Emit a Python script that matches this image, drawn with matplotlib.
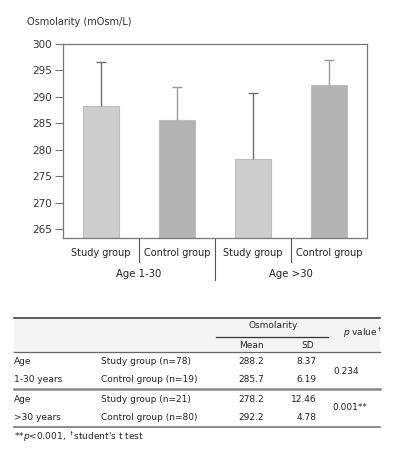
import matplotlib
matplotlib.use("Agg")
import matplotlib.pyplot as plt
from matplotlib.lines import Line2D
from matplotlib.patches import Rectangle

# data
groups = ["Age 1-30", "Age >30"]
categories = ["Study group", "Control group", "Study group", "Control group"]
means = [288.2, 285.7, 278.2, 292.2]
sds = [8.37, 6.19, 12.46, 4.78]
bar_colors = ["#cdcdcd", "#b3b3b3", "#cdcdcd", "#b3b3b3"]
err_colors = ["#6e6e6e", "#999999", "#6e6e6e", "#999999"]
yticks = [265, 270, 275, 280, 285, 290, 295, 300]

row_age = ["Age", "1-30 years", "Age", ">30 years"]
row_group = ["Study group (n=78)", "Control group (n=19)", "Study group (n=21)", "Control group (n=80)"]
tab_mean = ["288.2", "285.7", "278.2", "292.2"]
tab_sd = ["8.37", "6.19", "12.46", "4.78"]
p_values = ["0.234", "0.001**"]

W, H = 402, 458
fig = plt.figure(figsize=(W / 100, H / 100), dpi=100)
plt.rcParams["font.family"] = "DejaVu Sans"

def fx(x):
    return x / W

def fy(y):
    return 1 - y / H

ax = fig.add_axes([fx(63), fy(238), (367 - 63) / W, (238 - 44) / H])
x = list(range(len(means)))
for i in x:
    ax.bar(i, means[i], width=0.47, color=bar_colors[i], edgecolor="#bdbdbd", linewidth=0.8, zorder=2)
    top = means[i] + sds[i]
    # one-sided error bar: stem from bar top plus a single cap
    ax.vlines(i, means[i], top, color=err_colors[i], linewidth=1.0, zorder=3)
    ax.hlines(top, i - 0.065, i + 0.065, color=err_colors[i], linewidth=1.0, zorder=3)

ax.set_xlim(-0.5, 3.5)
ax.set_ylim(263.3, 300)
ax.set_yticks(yticks)
ax.set_xticks([])
ax.tick_params(axis="y", length=6, width=0.8, color="#777777", labelsize=7.5, labelcolor="#333333", pad=2)
for s in ax.spines.values():
    s.set_color("#777777")
    s.set_linewidth(0.9)

# category labels and separators below the axes
tr = ax.get_xaxis_transform()
for i, c in enumerate(categories):
    ax.text(i, -0.077, c, transform=tr, ha="center", va="center", fontsize=7, color="#222222")
for xs, y_end in [(0.5, -0.124), (1.5, -0.216), (2.5, -0.124)]:
    ax.add_line(Line2D([xs, xs], [0, y_end], transform=tr, color="#555555", linewidth=0.8, clip_on=False))
for gi, g in enumerate(groups):
    ax.text(gi * 2 + 0.5, -0.186, g, transform=tr, ha="center", va="center", fontsize=7.3, color="#222222")

fig.text(fx(27), fy(22), "Osmolarity (mOsm/L)", ha="left", va="center", fontsize=7, color="#333333")

# table
fig.add_artist(Rectangle((fx(14), fy(352)), fx(380) - fx(14), fy(318) - fy(352),
                         transform=fig.transFigure, facecolor="#f4f4f4", edgecolor="none"))

def hline(y, x0=14, x1=380, lw=1.0, color="#555555"):
    fig.add_artist(Line2D([fx(x0), fx(x1)], [fy(y), fy(y)], transform=fig.transFigure, color=color, linewidth=lw))

hline(318.3, lw=1.2, color="#444444")
hline(337.3, 216, 328, lw=0.9, color="#333333")
hline(352.3, lw=0.9, color="#666666")
hline(389.3, lw=1.8, color="#888888")
hline(426.7, lw=1.2, color="#777777")

fs = 6.5
fig.text(fx(273), fy(325.5), "Osmolarity", ha="center", va="center", fontsize=fs, color="#222222")
fig.text(fx(251.5), fy(345), "Mean", ha="center", va="center", fontsize=fs, color="#222222")
fig.text(fx(308), fy(345), "SD", ha="center", va="center", fontsize=fs, color="#222222")
fig.text(fx(343), fy(332.5), r"$p$ value$^\dagger$", ha="left", va="center", fontsize=fs, color="#222222")

row_y = [361.7, 380, 399, 417.3]
for k in range(4):
    fig.text(fx(14), fy(row_y[k]), row_age[k], ha="left", va="center", fontsize=fs, color="#222222")
    fig.text(fx(101.5), fy(row_y[k]), row_group[k], ha="left", va="center", fontsize=fs, color="#222222")
    fig.text(fx(251), fy(row_y[k]), tab_mean[k], ha="center", va="center", fontsize=fs, color="#222222")
    fig.text(fx(317), fy(row_y[k]), tab_sd[k], ha="right", va="center", fontsize=fs, color="#222222")
fig.text(fx(333), fy(371), p_values[0], ha="left", va="center", fontsize=fs, color="#222222")
fig.text(fx(332), fy(408), p_values[1], ha="left", va="center", fontsize=fs, color="#222222")

fig.text(fx(14), fy(437), r"**$p$<0.001, $^\dagger$student's t test", ha="left", va="center",
         fontsize=fs, color="#222222")

fig.savefig("out.png", dpi=100, facecolor="white")
